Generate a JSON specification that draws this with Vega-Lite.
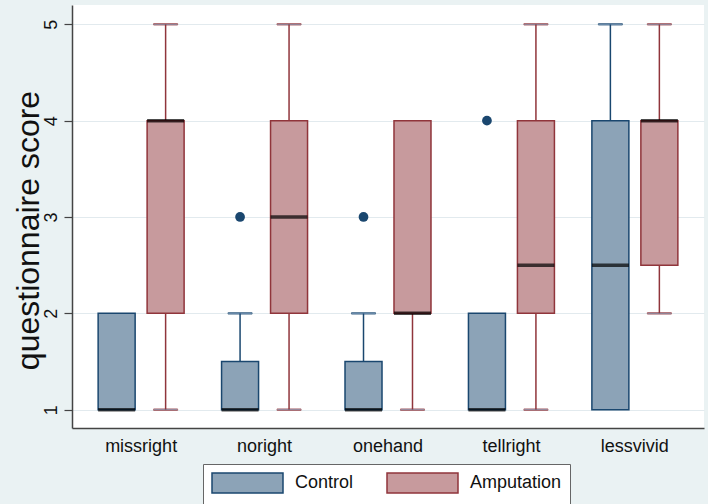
{
  "$schema": "https://vega.github.io/schema/vega-lite/v6.json",
  "width": 632,
  "height": 423,
  "autosize": "none",
  "padding": {"left": 72, "top": 5, "right": 4, "bottom": 76},
  "background": "#eaf2f3",
  "config": {
    "view": {"fill": "white", "stroke": null},
    "font": "Liberation Sans",
    "legend": {
      "title": null,
      "orient": "none",
      "direction": "horizontal",
      "legendX": 131,
      "legendY": 459,
      "fillColor": "white",
      "strokeColor": "#666666",
      "padding": 8,
      "symbolType": "M-1,-1H6.1V1H-1Z",
      "symbolSize": 400,
      "symbolStrokeWidth": 1.5,
      "symbolOpacity": 1,
      "labelFontSize": 18,
      "labelColor": "#111111",
      "labelOffset": 62,
      "columnPadding": 30
    }
  },
  "datasets": {
    "boxes": [
      {"category": "missright", "group": "Control", "lower": 1, "q1": 1, "median": 1, "q3": 2, "upper": 2},
      {"category": "missright", "group": "Amputation", "lower": 1, "q1": 2, "median": 4, "q3": 4, "upper": 5},
      {"category": "noright", "group": "Control", "lower": 1, "q1": 1, "median": 1, "q3": 1.5, "upper": 2},
      {"category": "noright", "group": "Amputation", "lower": 1, "q1": 2, "median": 3, "q3": 4, "upper": 5},
      {"category": "onehand", "group": "Control", "lower": 1, "q1": 1, "median": 1, "q3": 1.5, "upper": 2},
      {"category": "onehand", "group": "Amputation", "lower": 1, "q1": 2, "median": 2, "q3": 4, "upper": 4},
      {"category": "tellright", "group": "Control", "lower": 1, "q1": 1, "median": 1, "q3": 2, "upper": 2},
      {"category": "tellright", "group": "Amputation", "lower": 1, "q1": 2, "median": 2.5, "q3": 4, "upper": 5},
      {"category": "lessvivid", "group": "Control", "lower": 1, "q1": 1, "median": 2.5, "q3": 4, "upper": 5},
      {"category": "lessvivid", "group": "Amputation", "lower": 2, "q1": 2.5, "median": 4, "q3": 4, "upper": 5}
    ],
    "outliers": [
      {"category": "noright", "group": "Control", "value": 3},
      {"category": "onehand", "group": "Control", "value": 3},
      {"category": "tellright", "group": "Control", "value": 4}
    ]
  },
  "encoding": {
    "x": {
      "field": "category",
      "type": "nominal",
      "sort": ["missright", "noright", "onehand", "tellright", "lessvivid"],
      "scale": {"paddingInner": 0, "paddingOuter": 0.06},
      "axis": {
        "title": null,
        "labelAngle": 0,
        "labelFontSize": 18,
        "labelColor": "#111111",
        "labelPadding": 9,
        "ticks": false,
        "grid": false,
        "domainColor": "#444444",
        "domainWidth": 1.5
      }
    },
    "xOffset": {
      "field": "group",
      "type": "nominal",
      "sort": ["Control", "Amputation"],
      "scale": {"paddingInner": 0, "paddingOuter": 0.26}
    }
  },
  "layer": [
    {
      "data": {"name": "boxes"},
      "mark": {"type": "rule", "strokeWidth": 1.5},
      "encoding": {
        "y": {
          "field": "lower",
          "type": "quantitative",
          "scale": {"domain": [0.81, 5.2], "nice": false, "zero": false},
          "axis": {
            "title": "questionnaire score",
            "titleFontSize": 32,
            "titleFontWeight": "normal",
            "titleColor": "#111111",
            "titleAngle": 270,
            "titleAlign": "center",
            "titleBaseline": "bottom",
            "titleX": -27,
            "titleY": 225,
            "values": [1, 2, 3, 4, 5],
            "format": "d",
            "labelAngle": 270,
            "labelAlign": "center",
            "labelBaseline": "bottom",
            "labelFontSize": 18,
            "labelColor": "#111111",
            "labelPadding": 4,
            "tickSize": 8,
            "tickColor": "#444444",
            "tickWidth": 1.2,
            "domainColor": "#444444",
            "domainWidth": 1.5,
            "grid": true,
            "gridColor": "#e2eaee",
            "gridWidth": 1.2
          }
        },
        "y2": {"field": "q1"},
        "stroke": {
          "field": "group",
          "type": "nominal",
          "sort": ["Control", "Amputation"],
          "scale": {"domain": ["Control", "Amputation"], "range": ["#1a476f", "#90353b"]}
        }
      }
    },
    {
      "data": {"name": "boxes"},
      "mark": {"type": "rule", "strokeWidth": 1.5},
      "encoding": {
        "y": {"field": "q3", "type": "quantitative"},
        "y2": {"field": "upper"},
        "stroke": {"field": "group", "type": "nominal", "sort": ["Control", "Amputation"]}
      }
    },
    {
      "data": {"name": "boxes"},
      "transform": [{"filter": "datum.lower < datum.q1"}],
      "mark": {"type": "tick", "thickness": 1.5, "size": 24, "orient": "horizontal"},
      "encoding": {
        "y": {"field": "lower", "type": "quantitative"},
        "stroke": {"field": "group", "type": "nominal", "sort": ["Control", "Amputation"]}
      }
    },
    {
      "data": {"name": "boxes"},
      "transform": [{"filter": "datum.upper > datum.q3"}],
      "mark": {"type": "tick", "thickness": 1.5, "size": 24, "orient": "horizontal"},
      "encoding": {
        "y": {"field": "upper", "type": "quantitative"},
        "stroke": {"field": "group", "type": "nominal", "sort": ["Control", "Amputation"]}
      }
    },
    {
      "data": {"name": "boxes"},
      "mark": {"type": "bar", "width": 37, "strokeWidth": 1.5},
      "encoding": {
        "y": {"field": "q1", "type": "quantitative"},
        "y2": {"field": "q3"},
        "fill": {
          "field": "group",
          "type": "nominal",
          "sort": ["Control", "Amputation"],
          "scale": {"domain": ["Control", "Amputation"], "range": ["#8ca3b7", "#c79a9d"]}
        },
        "stroke": {"field": "group", "type": "nominal", "sort": ["Control", "Amputation"]}
      }
    },
    {
      "data": {"name": "boxes"},
      "mark": {"type": "tick", "thickness": 3.5, "size": 37, "color": "black", "orient": "horizontal"},
      "encoding": {
        "y": {"field": "median", "type": "quantitative"}
      }
    },
    {
      "data": {"name": "outliers"},
      "mark": {"type": "point", "filled": true, "shape": "circle", "size": 95, "color": "#1a476f", "opacity": 1},
      "encoding": {
        "y": {"field": "value", "type": "quantitative"}
      }
    }
  ]
}
